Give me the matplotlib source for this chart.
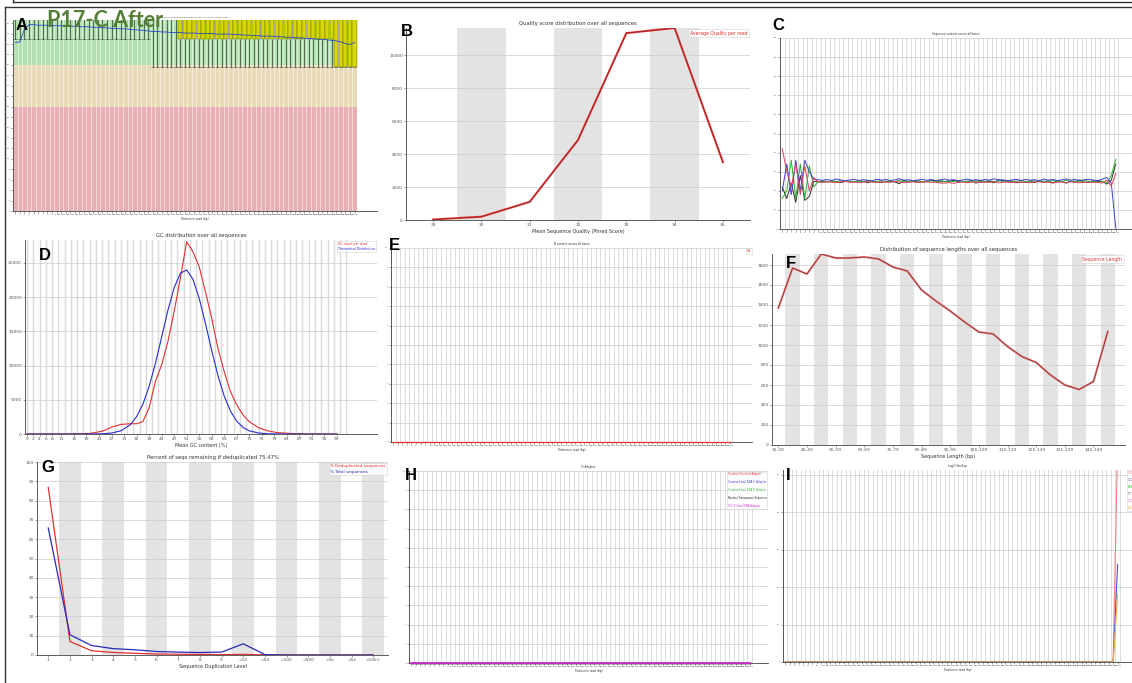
import numpy as np
import matplotlib.pyplot as plt
from matplotlib.lines import Line2D

W, H = 1132, 683

# position bins shared by the per-position panels (A, C, E, H, I)
pos_labels = [str(i) for i in range(1, 10)] + ['%d-%d' % (s, s + 1) for s in range(10, 142, 2)]

# A - per base sequence quality (boxes + mean)
qual_low = [33] * 30 + [27.5] * 45
qual_q1 = [37] * 36 + [33] * 34 + [27.5] * 5
qual_q3 = [37] * 75
qual_mean = [32.3, 32.4, 34.8, 35.7, 35.7, 35.6, 35.6, 35.6, 35.5, 35.5,
             35.5, 35.4, 35.4, 35.4, 35.3, 35.3, 35.3, 35.2, 35.2, 35.1,
             35.1, 35.0, 35.0, 34.9, 34.9, 34.8, 34.7, 34.7, 34.6, 34.5,
             34.4, 34.4, 34.3, 34.3, 34.2, 34.2, 34.2, 34.1, 34.1, 34.1,
             34.0, 34.0, 34.0, 34.0, 33.9, 33.9, 33.9, 33.9, 33.8, 33.8,
             33.7, 33.7, 33.6, 33.6, 33.5, 33.5, 33.5, 33.4, 33.4, 33.3,
             33.3, 33.2, 33.2, 33.1, 33.1, 33.0, 32.9, 32.9, 32.8, 32.7,
             32.6, 32.4, 32.1, 31.9, 32.3]

# B - quality score distribution
mean_quality = [29, 30, 31, 32, 33, 34, 35]
reads_per_quality = [30, 200, 1100, 4850, 11330, 11640, 3500]

# C - per base sequence content (%)
pct_T = [42, 30, 22, 34, 18, 33, 20, 27,
         24.6, 24.4, 24.8, 24.5, 24.3, 24.7, 24.9, 24.4,
         24.6, 24.2, 24.5, 24.8, 24.6, 24.3, 24.7, 24.5,
         24.4, 24.9, 24.6, 24.2, 24.5, 24.7, 24.3, 24.6,
         24.8, 24.4, 24.5, 24.1, 24.0, 24.3, 23.9, 24.4,
         24.6, 24.2, 24.5, 24.7, 24.3, 24.6, 24.4, 24.8,
         24.2, 24.5, 24.6, 24.3, 24.7, 24.4, 24.5, 24.2,
         24.6, 24.8, 24.3, 24.5, 24.1, 24.4, 24.6, 24.3,
         24.7, 24.5, 24.2, 24.4, 24.6, 24.3, 24.5, 24.0,
         25.5, 22.5, 29.0]
pct_C = [20, 34, 18, 36, 20, 36, 30, 26,
         25.8, 25.5, 25.9, 25.4, 26.2, 25.6, 25.3, 25.7,
         26.0, 25.4, 25.8, 25.5, 25.2, 26.1, 25.6, 25.9,
         25.4, 25.7, 26.3, 25.5, 25.8, 25.3, 25.6, 26.0,
         25.5, 25.9, 25.4, 25.7, 26.2, 25.6, 25.8, 25.3,
         25.7, 26.1, 25.5, 25.8, 25.4, 25.9, 25.6, 26.3,
         25.5, 25.8, 25.3, 25.7, 26.0, 25.4, 25.9, 25.6,
         25.8, 25.3, 26.1, 25.6, 25.9, 25.4, 25.7, 26.2,
         25.5, 25.9, 25.4, 25.8, 26.0, 25.6, 25.3, 26.1,
         27.0, 24.0, 0.5]
pct_A = [16, 20, 36, 16, 34, 16, 33, 22,
         24.8, 25.3, 24.6, 25.1, 24.7, 25.4, 24.9, 25.0,
         24.6, 25.2, 24.8, 25.5, 24.7, 25.0, 25.3, 24.6,
         25.1, 24.8, 25.4, 24.7, 25.2, 24.9, 25.5, 24.8,
         25.0, 25.3, 24.7, 25.6, 24.9, 25.2, 24.8, 25.4,
         24.7, 25.1, 24.9, 25.5, 24.8, 25.0, 25.3, 24.7,
         25.2, 24.9, 25.4, 24.8, 25.1, 25.5, 24.7, 25.0,
         25.3, 24.8, 25.2, 24.6, 25.4, 25.0, 24.8, 25.5,
         24.9, 25.2, 24.7, 25.3, 25.0, 24.8, 25.4, 24.9,
         24.0, 28.0, 36.5]
pct_G = [22, 16, 24, 14, 28, 15, 17, 25,
         24.8, 24.8, 24.7, 25.0, 24.8, 24.3, 24.9, 24.9,
         24.8, 25.2, 24.9, 24.2, 25.0, 24.6, 24.4, 25.0,
         25.1, 24.6, 23.7, 25.6, 24.5, 25.1, 24.6, 24.6,
         24.7, 25.4, 25.4, 24.6, 24.9, 24.9, 25.5, 24.9,
         25.0, 24.6, 25.5, 24.0, 25.5, 24.5, 25.0, 24.2,
         25.8, 25.3, 24.7, 25.2, 24.2, 24.6, 24.4, 25.2,
         24.3, 25.4, 24.4, 25.3, 24.1, 25.2, 24.9, 24.0,
         25.2, 24.4, 25.7, 24.5, 24.4, 25.3, 24.8, 25.0,
         23.5, 25.5, 34.0]

# D - GC distribution
gc_x = [0, 10, 16, 20, 24, 27, 30, 33, 35, 37, 39, 41, 43, 45, 47, 49, 51,
        53, 55, 57, 59, 61, 63, 65, 67, 69, 71, 74, 77, 80, 85, 90, 99]
gc_count = [0, 0, 20, 80, 400, 1000, 1400, 1500, 1500, 1800, 3800, 7650, 10100,
            13500, 17900, 22800, 28100, 26650, 24450, 20800, 16900, 12500, 9100,
            6200, 4250, 2800, 1800, 900, 450, 200, 60, 0, 0]
gc_theory = [0, 0, 0, 4, 33, 135, 466, 1360, 2530, 4340, 6930, 10290, 14150,
             18070, 21390, 23500, 23980, 22630, 19850, 16150, 12190, 8530, 5540,
             3340, 1870, 970, 466, 135, 33, 7, 0, 0, 0]
gc_ticks = [0, 2, 4, 6, 8, 11, 15, 19, 23, 27, 31, 35, 39, 43, 47, 51, 55, 59,
            63, 67, 71, 75, 79, 83, 87, 91, 95, 99]

# E - per base N content
pct_N = [0] * 75

# F - sequence length distribution
len_bins = ['35-39', '40-44', '45-49', '50-54', '55-59', '60-64', '65-69', '70-74',
            '75-79', '80-84', '85-89', '90-94', '95-99', '100-104', '105-109',
            '110-114', '115-119', '120-124', '125-129', '130-134', '135-139',
            '140-144', '145-149', '150-154']
len_counts = [1370, 1770, 1710, 1910, 1870, 1870, 1880, 1860, 1780, 1740,
              1550, 1440, 1340, 1230, 1130, 1110, 985, 885, 825, 700,
              600, 555, 635, 1135]

# G - duplication levels
dup_levels = ['1', '2', '3', '4', '5', '6', '7', '8', '9', '>10', '>50', '>100',
              '>500', '>1k', '>5k', '>10k+']
dedup_pct = [86.8, 7.0, 2.2, 1.3, 0.9, 0.5, 0.4, 0.3, 0.2, 0.3, 0.1, 0, 0, 0, 0, 0]
total_pct = [65.8, 10.5, 4.9, 3.3, 2.7, 1.8, 1.5, 1.3, 1.5, 5.8, 0.2, 0, 0, 0, 0, 0]

# H - adapter content
adapter_names = ['Illumina Universal Adapter', "Illumina Small RNA 3' Adapter",
                 "Illumina Small RNA 5' Adapter", 'Nextera Transposase Sequence',
                 'SOLID Small RNA Adapter']
adapter_colors = ['#e03030', '#3030d0', '#30b030', '#202020', '#d030d0']
adapter_pct = [[0] * 75, [0] * 75, [0] * 75, [0] * 75, [0] * 75]

# I - kmer content
kmer_names = ['GGGGGGG', 'CCCCCCC', 'AAAAAAA', 'TTTTTTT', 'CGCGCGC', 'ACGTACG']
kmer_colors = ['#f08080', '#5050d0', '#50c050', '#707070', '#d070d0', '#f0b040']
kmer_vals = [[0] * 74 + [58], [0] * 74 + [26], [0] * 75, [0] * 75, [0] * 75,
             [0] * 74 + [18]]


fig = plt.figure(figsize=(W / 100, H / 100), dpi=100)


def add_ax(x0, y0, x1, y1):
    return fig.add_axes([x0 / W, 1 - y1 / H, (x1 - x0) / W, (y1 - y0) / H])


def style(ax, title, xlabel, small=False, grid=True, title_fs=None):
    for s in ['top', 'right']:
        ax.spines[s].set_visible(False)
    for s in ['left', 'bottom']:
        ax.spines[s].set_linewidth(0.6)
        ax.spines[s].set_color('#444444')
    fs = 1.6 if small else 3.2
    ax.tick_params(length=1.2, width=0.4, labelsize=fs, pad=1, colors='#555555')
    if grid:
        ax.yaxis.grid(True, color='#cccccc', lw=0.5)
    ax.set_axisbelow(True)
    if title_fs is None:
        title_fs = 2.0 if small else 3.8
    ax.set_title(title, fontsize=title_fs, pad=2, color='#333333')
    ax.set_xlabel(xlabel, fontsize=2.0 if small else 3.5, labelpad=1.5, color='#333333')


def text_legend(ax, labels, colors, fs, **kw):
    handles = [Line2D([], [], color=c) for c in colors]
    opts = dict(loc='upper right', handlelength=0, handletextpad=0, fontsize=fs,
                frameon=True, fancybox=False, borderpad=0.3, labelspacing=0.25,
                borderaxespad=0.3)
    opts.update(kw)
    leg = ax.legend(handles, labels, **opts)
    for t, c in zip(leg.get_texts(), colors):
        t.set_color(c)
    leg.get_frame().set_edgecolor('#c8c8c8')
    leg.get_frame().set_linewidth(0.4)
    return leg


def position_axes(ax, xmax, n=75):
    ax.set_xlim(0.5, xmax)
    for i in range(n + 1):
        ax.axvline(i + 0.5, color='#d6d6d6', lw=0.6, zorder=0)
    ax.set_xticks(range(1, n + 1))
    ax.set_xticklabels(pos_labels)


nb = len(pos_labels)
bins = np.arange(1, nb + 1)

# ---------------- A
axA = add_ax(13, 20, 377, 211)
axA.set_xlim(0.5, 79.9)
axA.set_ylim(0, 36.6)
axA.fill_between([0.5, nb + 0.5], 0, 20, color='#e8b0b4', lw=0, zorder=0)
axA.fill_between([0.5, nb + 0.5], 20, 28, color='#e9dbb9', lw=0, zorder=0)
axA.fill_between([0.5, nb + 0.5], 28, 40, color='#b3e0b0', lw=0, zorder=0)
axA.vlines(np.arange(0.5, nb + 1), 0, 40, color='white', lw=0.5, alpha=0.7, zorder=1)
low = np.array(qual_low)
q1 = np.array(qual_q1)
q3 = np.array(qual_q3)
box = q3 > q1
axA.bar(bins[box], (q3 - q1)[box], bottom=q1[box], width=0.9, color='#d6d600',
        edgecolor='#5a5a10', lw=0.3, zorder=2)
axA.vlines(bins, low, q1, color='#2a3a2a', lw=0.5, zorder=3)
axA.hlines(low, bins - 0.4, bins + 0.4, color='#2a3a2a', lw=0.4, zorder=3)
axA.plot(bins, qual_mean, color='#2545c8', lw=0.6, zorder=4)
axA.set_xticks(bins)
axA.set_xticklabels(pos_labels)
axA.set_yticks(range(0, 37, 2))
style(axA, 'Quality scores across all bases (Sanger / Illumina 1.9 encoding)',
      'Position in read (bp)', small=True, grid=False, title_fs=1.5)

# ---------------- B
axB = add_ax(406, 28, 750, 220)
axB.set_xlim(28.44, 35.56)
axB.set_ylim(0, 11640)
for c in [30, 32, 34]:
    axB.axvspan(c - 0.5, c + 0.5, color='#e3e3e3', lw=0, zorder=0)
axB.plot(mean_quality, reads_per_quality, color='#e53a3a', lw=1.5, zorder=3)
axB.plot(mean_quality, reads_per_quality, color='#6a1c1c', lw=0.35, zorder=4)
axB.set_xticks(mean_quality)
axB.set_yticks(range(0, 11000, 2000))
style(axB, 'Quality score distribution over all sequences',
      'Mean Sequence Quality (Phred Score)')
text_legend(axB, ['Average Quality per read'], ['#e03030'], 3.3)

# ---------------- C
axC = add_ax(780, 38, 1132, 229)
position_axes(axC, 78.6)
axC.set_ylim(0, 100)
axC.set_yticks(range(0, 101, 10))
for vals, col in [(pct_G, '#303030'), (pct_A, '#30b030'), (pct_C, '#4040d0'),
                  (pct_T, '#e04060')]:
    axC.plot(bins, vals, color=col, lw=0.7, zorder=3)
style(axC, 'Sequence content across all bases', 'Position in read (bp)', small=True)

# ---------------- D
axD = add_ax(25, 240, 377, 434)
axD.set_xlim(-0.64, 111.8)
axD.set_ylim(0, 28360)
for k in range(0, 103, 2):
    axD.axvline(k, color='#dadada', lw=1.0, zorder=0)
axD.plot(gc_x, gc_count, color='#e03030', lw=0.8, zorder=3)
axD.plot(gc_x, gc_theory, color='#2a2ad0', lw=0.8, zorder=3)
axD.set_xticks(gc_ticks)
axD.set_yticks(range(0, 26000, 5000))
style(axD, 'GC distribution over all sequences', 'Mean GC content (%)')
text_legend(axD, ['GC count per read', 'Theoretical Distribution'],
            ['#e03030', '#2a2ad0'], 2.3)

# ---------------- E
axE = add_ax(391, 248, 752, 442)
position_axes(axE, 79.9)
axE.set_ylim(0, 10)
axE.set_yticks(range(0, 11))
axE.plot(bins, pct_N, color='#e03030', lw=0.9, zorder=3, clip_on=False)
style(axE, 'N content across all bases', 'Position in read (bp)', small=True)
text_legend(axE, ['%N'], ['#e03030'], 1.8, borderaxespad=0.1)

# ---------------- F
axF = add_ax(772, 254, 1125, 445)
fx = np.arange(len(len_bins))
axF.set_xlim(-0.44, 24.2)
axF.set_ylim(0, 1910)
for k in fx[1::2]:
    axF.axvspan(k - 0.5, k + 0.5, color='#e3e3e3', lw=0, zorder=0)
axF.plot(fx, len_counts, color='#f07878', lw=1.5, zorder=3)
axF.plot(fx, len_counts, color='#502020', lw=0.4, zorder=4)
axF.set_xticks(fx[::2])
axF.set_xticklabels(len_bins[::2])
axF.set_yticks(range(0, 1900, 200))
style(axF, 'Distribution of sequence lengths over all sequences', 'Sequence Length (bp)')
text_legend(axF, ['Sequence Length'], ['#e04040'], 3.3)

# ---------------- G
axG = add_ax(37, 462, 388, 655)
gx = np.arange(len(dup_levels))
axG.set_xlim(-0.52, 15.68)
axG.set_ylim(0, 100)
for k in gx[1::2]:
    axG.axvspan(k - 0.5, k + 0.5, color='#e3e3e3', lw=0, zorder=0)
axG.plot(gx, dedup_pct, color='#e03030', lw=0.9, zorder=3)
axG.plot(gx, total_pct, color='#2a2ab8', lw=0.9, zorder=4)
axG.set_xticks(gx)
axG.set_xticklabels(dup_levels)
axG.set_yticks(range(0, 101, 10))
style(axG, 'Percent of seqs remaining if deduplicated 75.47%', 'Sequence Duplication Level')
text_legend(axG, ['% Deduplicated sequences', '% Total sequences'],
            ['#e03030', '#2a2ab8'], 3.0)

# ---------------- H
axH = add_ax(409, 471, 768, 663)
position_axes(axH, 79.0)
axH.set_ylim(0, 10)
axH.set_yticks(range(0, 11))
for vals, col in zip(adapter_pct, adapter_colors):
    axH.plot(bins, vals, color=col, lw=0.9 if col != '#d030d0' else 1.3,
             zorder=3, clip_on=False)
style(axH, '% Adapter', 'Position in read (bp)', small=True)
text_legend(axH, adapter_names, adapter_colors, 1.8, borderaxespad=0.2,
            labelspacing=1.6)

# ---------------- I
axI = add_ax(783, 470, 1132, 662)
position_axes(axI, 78.2)
axI.set_ylim(0, 51.3)
axI.set_yticks(range(0, 51, 10))
for vals, col in zip(kmer_vals, kmer_colors):
    axI.plot(bins, vals, color=col, lw=0.8, zorder=3, clip_on=True)
style(axI, 'Log2 Obs/Exp', 'Position in read (bp)', small=True)
text_legend(axI, kmer_names, kmer_colors, 1.8, loc='upper left',
            bbox_to_anchor=(0.985, 1.0), borderaxespad=0, labelspacing=1.2)

# ---------------- panel letters and header
letters = [('A', 22, 26), ('B', 407, 31), ('C', 778, 25), ('D', 45, 255), ('E', 394, 246),
           ('F', 791, 263), ('G', 48, 468), ('H', 411, 475), ('I', 788, 475)]
for ch, x, y in letters:
    fig.text(x / W, 1 - y / H, ch, fontsize=12, fontweight='bold', family='Liberation Sans',
             ha='center', va='center', color='black')

fig.text(47 / W, 1 - 27 / H, 'P17-C After', fontsize=15.5, fontweight='bold',
         family='Lato', color='#557f36', ha='left', va='baseline')

# outer frame lines
frame = [((13, 2), (1132, 2)), ((13, 0), (13, 2)), ((5, 7), (1132, 7)), ((5, 7), (5, 683))]
for (x0, y0), (x1, y1) in frame:
    fig.add_artist(Line2D([x0 / W, x1 / W], [1 - y0 / H, 1 - y1 / H],
                          transform=fig.transFigure, color='#333333', lw=1.0))

fig.savefig('out.png', dpi=100)
